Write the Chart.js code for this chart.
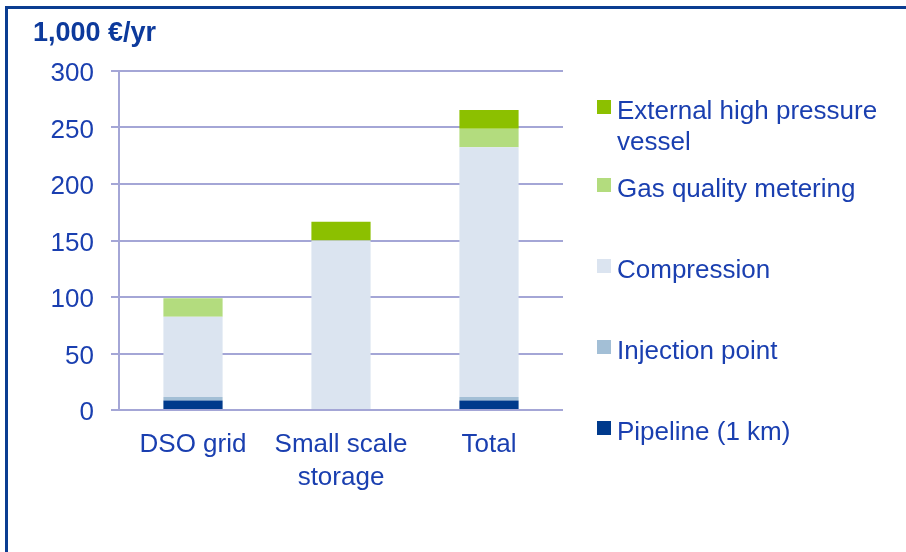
<!DOCTYPE html>
<html>
<head>
<meta charset="utf-8">
<script src="https://cdn.jsdelivr.net/npm/chart.js@4.4.1/dist/chart.umd.min.js"></script>
<style>
  html, body { margin: 0; padding: 0; background: #fff; }
  #wrap { position: relative; width: 906px; height: 552px; overflow: hidden; font-family: "Liberation Sans", Arial, sans-serif; }
  #frameTop { position: absolute; left: 5px; top: 6px; width: 901px; height: 3px; background: #0b3d91; }
  #frameLeft { position: absolute; left: 5px; top: 6px; width: 3px; height: 546px; background: #0b3d91; }
  #title { position: absolute; left: 33px; top: 16px; font-weight: bold; font-size: 27px; line-height: 32px; color: #0d3a9c; white-space: nowrap; }
  #c { position: absolute; left: 0; top: 0; }
  #legend { position: absolute; left: 0; top: 0; }
  .li { position: absolute; left: 597px; color: #1a3fb0; font-size: 26px; line-height: 31px; }
  .sw { position: absolute; left: 0; top: 5px; width: 14px; height: 14px; }
  .tx { position: absolute; left: 20px; top: 0; white-space: nowrap; }
</style>
</head>
<body>
<div id="wrap">
  <canvas id="c" width="906" height="552"></canvas>
  <div id="frameTop"></div>
  <div id="frameLeft"></div>
  <div id="title">1,000 €/yr</div>
  <div id="legend"></div>
</div>
<script>
const categories = [["DSO grid"], ["Small scale", "storage"], ["Total"]];
const pipeline = [8.5, 0, 8.5];
const injectionPoint = [3, 0, 3];
const compression = [71, 150, 221];
const gasQualityMetering = [16.5, 0, 16.5];
const externalVessel = [0, 16.5, 16.5];
const yTicks = [0, 50, 100, 150, 200, 250, 300];

const seriesNames = ["Pipeline (1 km)", "Injection point", "Compression", "Gas quality metering", "External high pressure vessel"];
const seriesColors = ["#003a8c", "#a3bfd6", "#dbe4f0", "#b3dc7e", "#8cc000"];
const seriesData = [pipeline, injectionPoint, compression, gasQualityMetering, externalVessel];

const gridColor = "#a4a6d6";
const textColor = "#1a3fb0";

const datasets = seriesNames.map((n, i) => ({
  label: n,
  data: seriesData[i],
  backgroundColor: seriesColors[i],
  borderWidth: 0,
  barPercentage: 0.4,
  categoryPercentage: 1.0
}));

new Chart(document.getElementById("c"), {
  type: "bar",
  data: { labels: categories, datasets },
  options: {
    responsive: false,
    animation: false,
    layout: { padding: { left: 0, top: 71, right: 343, bottom: 0 } },
    plugins: { legend: { display: false }, tooltip: { enabled: false } },
    scales: {
      x: {
        stacked: true,
        grid: { display: false, drawTicks: false },
        border: { display: false },
        ticks: { color: textColor, font: { family: "Liberation Sans", size: 26, lineHeight: 1.27 }, padding: 18, maxRotation: 0 },
        afterFit(s) { s.height = 552 - 410; }
      },
      y: {
        stacked: true,
        min: 0, max: 300,
        afterBuildTicks(s) { s.ticks = yTicks.map(v => ({ value: v })); },
        grid: { color: gridColor, lineWidth: 2, tickLength: 8 },
        border: { display: true, color: gridColor, width: 2 },
        ticks: { color: textColor, font: { family: "Liberation Sans", size: 26 }, padding: 17 },
        afterFit(s) {
          s.width = 119;
          if (!s._shiftWrapped) {
            const orig = s.drawLabels;
            s.drawLabels = function (area) {
              const ctx = this.ctx;
              ctx.save(); ctx.translate(0, 3); orig.call(this, area); ctx.restore();
            };
            s._shiftWrapped = true;
          }
        }
      }
    }
  }
});

// Legend (reverse order, matching the reference)
const legendTops = [95, 173, 254, 335, 416];
const leg = document.getElementById("legend");
const order = [4, 3, 2, 1, 0];
order.forEach((idx, k) => {
  const d = document.createElement("div");
  d.className = "li";
  d.style.top = legendTops[k] + "px";
  const sw = document.createElement("div");
  sw.className = "sw";
  sw.style.background = seriesColors[idx];
  const tx = document.createElement("div");
  tx.className = "tx";
  tx.innerHTML = idx === 4 ? "External high pressure<br>vessel" : seriesNames[idx];
  d.appendChild(sw); d.appendChild(tx);
  leg.appendChild(d);
});
</script>
</body>
</html>
